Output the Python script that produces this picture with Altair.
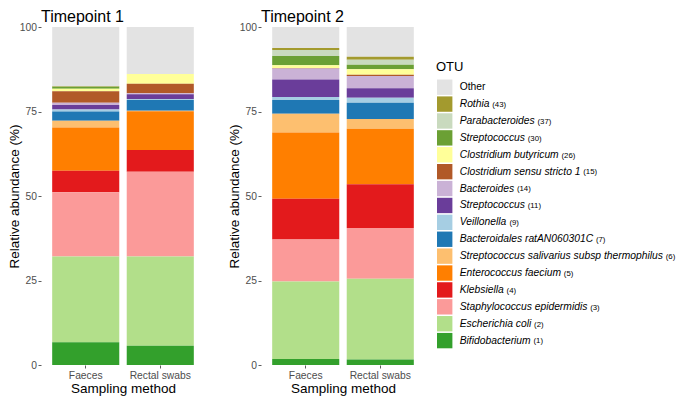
import altair as alt
import pandas as pd

FONT = "Liberation Sans"

# ---- data (legend order: top of stack first) ----
names = ["Other", "Rothia", "Parabacteroides", "Streptococcus", "Clostridium butyricum",
         "Clostridium sensu stricto 1", "Bacteroides", "Streptococcus", "Veillonella",
         "Bacteroidales ratAN060301C", "Streptococcus salivarius subsp thermophilus",
         "Enterococcus faecium", "Klebsiella", "Staphylococcus epidermidis",
         "Escherichia coli", "Bifidobacterium"]
counts = [None, 43, 37, 30, 26, 15, 14, 11, 9, 7, 6, 5, 4, 3, 2, 1]
colors = ["#E3E3E3", "#A39A2E", "#C9DABE", "#6BA034", "#FFFF99", "#B15928", "#CAB2D6",
          "#6A3D9A", "#A6CEE3", "#1F78B4", "#FDBF6F", "#FF7F00", "#E31A1C", "#FB9A99",
          "#B2DF8A", "#33A02C"]

methods = ["Faeces", "Rectal swabs"]
timepoints = ["Timepoint 1", "Timepoint 2"]

t1_faeces = [17.5, 0.2, 0.0, 0.6, 0.7, 3.4, 0.7, 1.3, 0.6, 2.7, 2.0, 12.8, 6.4, 19.0, 25.4, 6.7]
t1_rectal = [13.9, 0.0, 0.0, 0.0, 2.9, 2.8, 0.3, 1.4, 0.3, 3.2, 0.1, 11.5, 6.4, 25.1, 26.4, 5.7]
t2_faeces = [6.2, 0.6, 1.8, 2.7, 0.8, 0.2, 3.2, 5.2, 0.9, 4.1, 5.5, 19.6, 12.1, 12.4, 22.9, 1.8]
t2_rectal = [8.8, 0.9, 1.5, 1.3, 1.6, 0.4, 3.6, 2.8, 1.5, 4.8, 2.9, 16.4, 13.0, 15.0, 23.9, 1.6]

keys = [n if c is None else f"{n} ({c})" for n, c in zip(names, counts)]
n_otu = len(keys)

rows = []
for tp, meth, vals in [("Timepoint 1", "Faeces", t1_faeces), ("Timepoint 1", "Rectal swabs", t1_rectal),
                       ("Timepoint 2", "Faeces", t2_faeces), ("Timepoint 2", "Rectal swabs", t2_rectal)]:
    for i, (k, v) in enumerate(zip(keys, vals)):
        rows.append({"tp": tp, "method": meth, "otu": k, "value": v, "rank": n_otu - 1 - i})
df = pd.DataFrame(rows)

color_scale = alt.Scale(domain=keys, range=colors)

PH = 338
PW = 164


def bars(tp):
    return alt.Chart(df[df.tp == tp]).mark_bar().encode(
        x=alt.X("method:N", sort=methods,
                scale=alt.Scale(paddingInner=0.1, paddingOuter=0.15),
                axis=alt.Axis(title="Sampling method", labelAngle=0)),
        y=alt.Y("value:Q", stack="zero",
                scale=alt.Scale(domain=[0, 100], nice=False, zero=True),
                axis=alt.Axis(values=[0, 25, 50, 75, 100], title="Relative abundance (%)")),
        color=alt.Color("otu:N", scale=color_scale, legend=None),
        order=alt.Order("rank:Q", sort="ascending"),
    )


# ---- custom legend (italic names + small counts), drawn to the right of panel 2 ----
HELV = {' ': 278, '(': 333, ')': 333, 'A': 667, 'B': 667, 'C': 722, 'D': 722, 'E': 667, 'F': 611,
        'G': 778, 'H': 722, 'I': 278, 'J': 500, 'K': 667, 'L': 556, 'M': 833, 'N': 722, 'O': 778,
        'P': 667, 'Q': 778, 'R': 722, 'S': 667, 'T': 611, 'U': 722, 'V': 667, 'W': 944, 'X': 667,
        'Y': 667, 'Z': 611, 'a': 556, 'b': 556, 'c': 500, 'd': 556, 'e': 556, 'f': 278, 'g': 556,
        'h': 556, 'i': 222, 'j': 222, 'k': 500, 'l': 222, 'm': 833, 'n': 556, 'o': 556, 'p': 556,
        'q': 556, 'r': 333, 's': 500, 't': 278, 'u': 556, 'v': 500, 'w': 722, 'x': 500, 'y': 500,
        'z': 500}
NAME_FS = 10.3
COUNT_FS = 7.8
SX = 176          # legend key left, relative to panel-2 plot area
TX = SX + 22.7


def text_w(s, fs):
    return sum(HELV.get(ch, 556) for ch in s) * fs / 1000.0


leg = pd.DataFrame({
    "key": keys,
    "name": names,
    "count": ["" if c is None else f"({c})" for c in counts],
    "italic": [c is not None for c in counts],
})
leg["cx"] = [TX + text_w(n, NAME_FS) + 2.8 for n in names]

Y0 = 52.5
ROW = 16.8
yenc = alt.Y("key:N", sort=keys,
             scale=alt.Scale(range=[Y0, Y0 + n_otu * ROW], paddingInner=0.09, paddingOuter=0),
             axis=None)

base = alt.Chart(leg)
sw = base.mark_rect().encode(
    y=yenc, x=alt.value(SX), x2=alt.value(SX + 15.4),
    color=alt.Color("key:N", scale=color_scale, legend=None))
txt_it = base.transform_filter("datum.italic").mark_text(
    align="left", baseline="middle", fontStyle="italic", fontSize=NAME_FS, color="black", font=FONT
).encode(y=yenc, x=alt.value(TX), text="name:N")
txt_plain = base.transform_filter("!datum.italic").mark_text(
    align="left", baseline="middle", fontSize=NAME_FS, color="black", font=FONT
).encode(y=yenc, x=alt.value(TX), text="name:N")
txt_cnt = base.transform_filter("datum.italic").mark_text(
    align="left", baseline="middle", fontSize=COUNT_FS, color="black", font=FONT, dy=0.8
).encode(y=yenc, x=alt.X("cx:Q", scale=None), text="count:N")
otu_title = alt.Chart(pd.DataFrame({"t": ["OTU"]})).mark_text(
    align="left", baseline="alphabetic", fontSize=13, color="black", font=FONT
).encode(x=alt.value(SX - 1), y=alt.value(Y0 - 8.6), text="t:N")

legend_layers = alt.layer(sw, txt_it, txt_plain, txt_cnt, otu_title)

p1 = bars("Timepoint 1").properties(
    width=PW, height=PH, title=alt.TitleParams("Timepoint 1", frame="group"))
p2 = alt.layer(bars("Timepoint 2"), legend_layers).resolve_scale(
    y="independent", x="independent"
).properties(width=PW, height=PH, title=alt.TitleParams("Timepoint 2", frame="group"))

chart = alt.hconcat(p1, p2, spacing=22).properties(
    padding={"left": -1, "top": 1, "right": 0, "bottom": 1}
).configure(font=FONT).configure_view(stroke=None).configure_axis(
    labelFont=FONT, titleFont=FONT, labelColor="#4D4D4D", tickColor="#333333", tickSize=3,
    tickWidth=0.8, labelFontSize=10.3, titleFontSize=13.5, titleColor="black",
    titleFontWeight="normal", domain=False, grid=False
).configure_axisX(titlePadding=1, labelPadding=2).configure_axisY(
    titlePadding=-2, labelPadding=1.5
).configure_title(
    font=FONT, fontSize=16, fontWeight="normal", anchor="start", color="black", offset=-3
)

chart.save("out.html", embed_options={"renderer": "svg", "actions": False})
